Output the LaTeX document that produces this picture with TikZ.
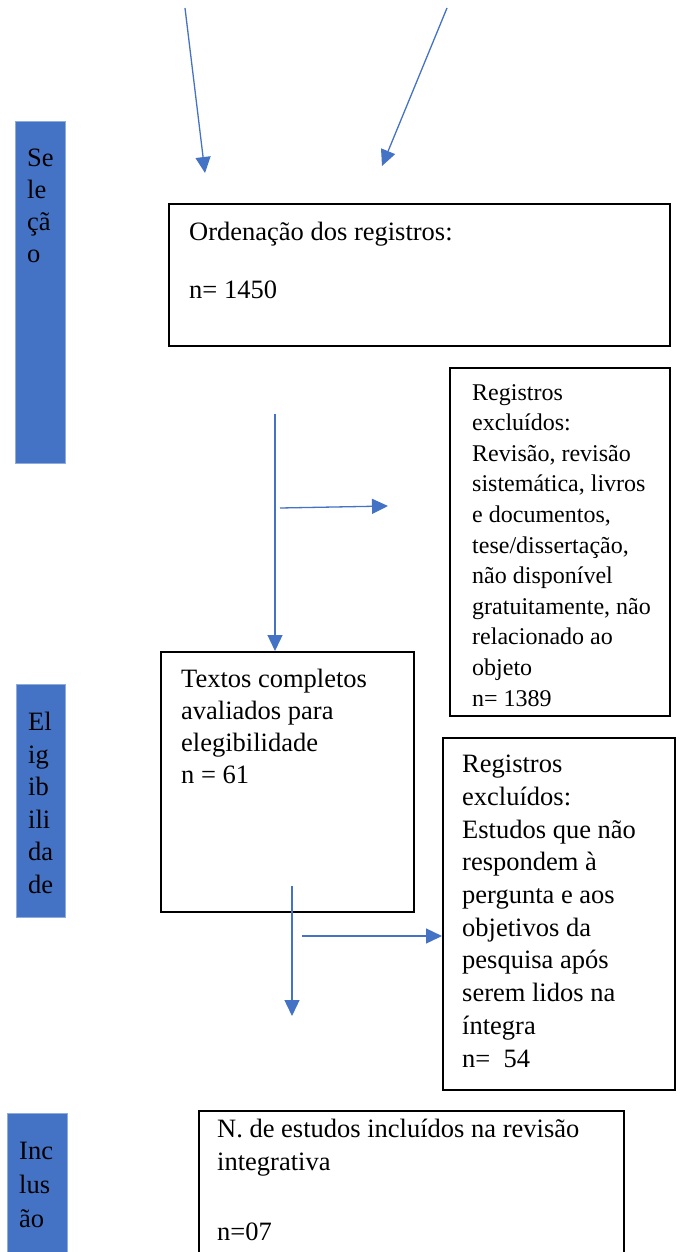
\documentclass[tikz,border=0pt]{standalone}
\usepackage{fontspec}
\setmainfont{Liberation Serif}
\usetikzlibrary{arrows.meta}
\definecolor{officeblue}{HTML}{4472C4}
\begin{document}
\begin{tikzpicture}[x=1pt,y=-1pt,
    flow/.style={officeblue, line width=1.3pt, -{Triangle[length=16pt,width=15pt]}},
    box/.style={draw, line width=1.6pt, anchor=north west, inner sep=0pt},
    bar/.style={fill=officeblue, draw=officeblue!60, line width=0.5pt, anchor=north west, inner sep=0pt},
    txt/.style={font=\fontsize{26.5}{32}\selectfont, align=left, inner sep=0pt, anchor=north west}]
  \useasboundingbox (0,0) rectangle (680,1252);
  \clip (0,0) rectangle (680,1252);
  % side bars
  \node[bar, minimum width=50pt, minimum height=342pt] (sel) at (15,121) {};
  \node[bar, minimum width=49pt, minimum height=233pt] (ele) at (16,684) {};
  \node[bar, minimum width=60pt, minimum height=150pt] (inc) at (7,1113) {};
  \node[txt] (seltxt) at (27,149) {Se\\le\\çã\\o};
  \node[txt, font=\fontsize{26.5}{32.6}\selectfont] (eletxt) at (28,712) {El\\ig\\ib\\ili\\da\\de};
  \node[txt, font=\fontsize{26.5}{34}\selectfont] (inctxt) at (19,1142) {Inc\\lus\\ão};
  % boxes
  \node[box, minimum width=501pt, minimum height=142pt] (ord) at (168,203) {};
  \node[txt] (ordtxt) at (189,222) {Ordenação dos registros:\\[26pt]n= 1450};
  \node[box, minimum width=220pt, minimum height=348pt] (exc1) at (449,367) {};
  \node[txt, font=\fontsize{24}{30.6}\selectfont] (exc1txt) at (472,384) {Registros\\excluídos:\\Revisão, revisão\\sistemática, livros\\e documentos,\\tese/dissertação,\\não disponível\\gratuitamente, não\\relacionado ao\\objeto\\n= 1389};
  \node[box, minimum width=253pt, minimum height=260pt] (tex) at (160,651) {};
  \node[txt] (textxt) at (181,669) {Textos completos\\avaliados para\\elegibilidade\\n = 61};
  \node[box, minimum width=232pt, minimum height=352pt] (exc2) at (442,737) {};
  \node[txt, font=\fontsize{26.5}{32.7}\selectfont] (exc2txt) at (462,755) {Registros\\excluídos:\\Estudos que não\\respondem à\\pergunta e aos\\objetivos da\\pesquisa após\\serem lidos na\\íntegra\\n=~~54};
  \node[box, minimum width=425pt, minimum height=170pt] (incl) at (198,1110) {};
  \node[txt, font=\fontsize{26.5}{33}\selectfont] (incltxt) at (217,1119) {N. de estudos incluídos na revisão\\integrativa\\[37pt]n=07};
  % arrows
  \coordinate (a1) at (185,8);
  \coordinate (b1) at (205,173);
  \coordinate (a2) at (447,8);
  \coordinate (b2) at (382,166);
  \coordinate (a3) at (275,414);
  \coordinate (a4) at (280,508);
  \coordinate (b4) at (388,506);
  \coordinate (a5) at (292,886);
  \coordinate (b5) at (292,1016);
  \coordinate (a6) at (302,936);
  \draw[flow] (a1) -- (b1);
  \draw[flow] (a2) -- (b2);
  \draw[flow] (a3) -- (a3 |- tex.north);
  \draw[flow] (a4) -- (b4);
  \draw[flow] (a5) -- (b5);
  \draw[flow] (a6) -- (a6 -| exc2.west);
\end{tikzpicture}
\end{document}
